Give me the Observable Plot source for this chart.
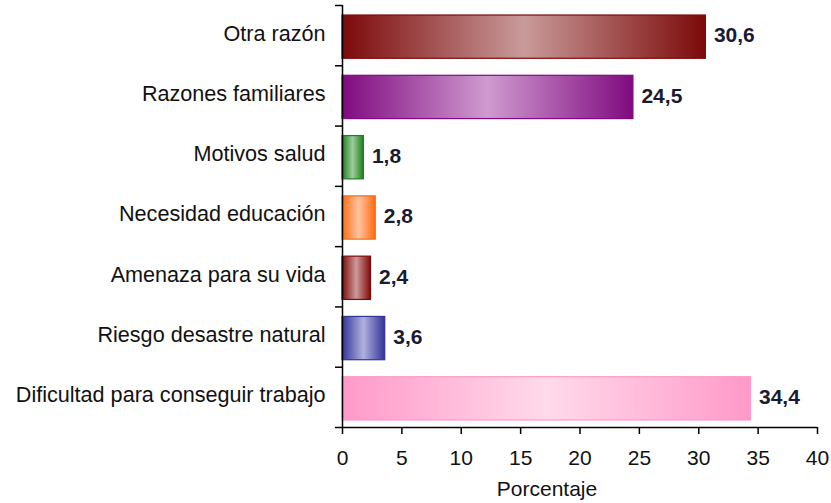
<!DOCTYPE html>
<html>
<head>
<meta charset="utf-8">
<script src="https://cdn.jsdelivr.net/npm/d3@7"></script>
<script src="https://cdn.jsdelivr.net/npm/@observablehq/plot@0.6"></script>
<style>
  html, body { margin: 0; padding: 0; background: #fff; }
  #chart { width: 831px; height: 503px; }
</style>
</head>
<body>
<div id="chart"></div>
<script>
const categories = ["Otra razón", "Razones familiares", "Motivos salud", "Necesidad educación", "Amenaza para su vida", "Riesgo desastre natural", "Dificultad para conseguir trabajo"];
const values = [30.6, 24.5, 1.8, 2.8, 2.4, 3.6, 34.4];
const edgeColors = ["#7d0a0a", "#800a80", "#1a801a", "#ff6a10", "#800a0a", "#333399", "#ff99c8"];
const lightColors = ["#c99a9a", "#cf9acf", "#9fcc9f", "#ffc4a0", "#cc9a9a", "#b0b0de", "#ffdaeb"];
const xTicks = [0, 5, 10, 15, 20, 25, 30, 35, 40];
const xLabel = "Porcentaje";

const rows = categories.map((c, i) => ({i, category: c, value: values[i], edge: edgeColors[i]}));

const svg = Plot.plot({
  width: 831,
  height: 503,
  marginLeft: 342,
  marginRight: 14,
  marginTop: 5,
  marginBottom: 76,
  style: {fontFamily: "'Liberation Sans', Arial, sans-serif", fontSize: "21px", background: "white", color: "#000"},
  x: {domain: [0, 40]},
  y: {domain: [categories.length, 0]},
  color: {type: "identity"},
  marks: [
    Plot.rectX(rows, {
      x1: 0, x2: "value",
      y1: "i", y2: d => d.i + 1,
      insetTop: 10, insetBottom: 7,
      fill: d => `url(#grad${d.i})`,
      stroke: "edge", strokeWidth: 1.2
    }),
    Plot.text(rows, {
      x: "value", y: d => d.i + 0.5,
      text: d => d.value.toFixed(1).replace(".", ","),
      dx: 8, textAnchor: "start", fontWeight: "bold", fill: "#1a1a33", fontSize: 21
    }),
    Plot.ruleX([0], {stroke: "#000", strokeWidth: 1.5}),
    Plot.ruleY([categories.length], {stroke: "#000", strokeWidth: 1.5}),
    Plot.axisY({ticks: d3.range(0, categories.length + 1), tickFormat: () => "", tickSize: 7, label: null, strokeWidth: 1.5}),
    Plot.axisY({ticks: categories.map((c, i) => i + 0.5), tickFormat: t => categories[Math.floor(t)], tickSize: 0, tickPadding: 17, label: null, dy: -2, fill: "#111", fontSize: 21.6}),
    Plot.axisX({ticks: xTicks, tickSize: 7, tickPadding: 16, label: null, strokeWidth: 1.5, fill: "#111"}),
    Plot.text([xLabel], {frameAnchor: "bottom", dx: -33, dy: 68, fill: "#111", fontSize: 21})
  ]
});

const defs = d3.select(svg).insert("defs", ":first-child");
edgeColors.forEach((e, i) => {
  const g = defs.append("linearGradient")
    .attr("id", `grad${i}`)
    .attr("x1", "0").attr("x2", "1").attr("y1", "0").attr("y2", "0");
  g.append("stop").attr("offset", "0").attr("stop-color", e);
  g.append("stop").attr("offset", "0.5").attr("stop-color", lightColors[i]);
  g.append("stop").attr("offset", "1").attr("stop-color", e);
});

document.getElementById("chart").appendChild(svg);
</script>
</body>
</html>
